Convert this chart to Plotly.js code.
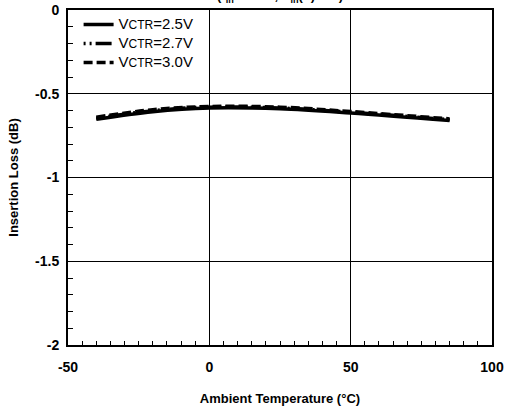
<!DOCTYPE html>
<html><head><meta charset="utf-8">
<script src="https://cdn.plot.ly/plotly-3.0.1.min.js"></script>
<style>body{margin:0;background:#fff}#c{width:505px;height:410px}</style>
</head><body><div id="c"></div>
<script>
const temps = [-40, -20, 0, 25, 50, 85];
const v25 = [-0.652, -0.607, -0.585, -0.590, -0.615, -0.660];
const v27 = [-0.646, -0.601, -0.580, -0.585, -0.610, -0.655];
const v30 = [-0.640, -0.595, -0.576, -0.580, -0.606, -0.650];
const seriesNames = ['2.5V', '2.7V', '3.0V'];
const legendLabel = v => '<span style="font-size:15px">V</span><span style="font-size:12px">CTR</span><span style="font-size:15px">=' + v + '</span>';
const xTicks = [-50, 0, 50, 100];
const yTicks = [0, -0.5, -1, -1.5, -2];
const yTickText = ['0', '-0.5', '-1', '-1.5', '-2'];

const mk = (y, name, dash) => ({x: temps, y: y, name: legendLabel(name), mode: 'lines', type: 'scatter',
  line: {color: '#000', width: 3.5, dash: dash, shape: 'spline'}});
const data = [mk(v25, seriesNames[0], 'solid'), mk(v27, seriesNames[1], '2px,4px,2px,4px,16px,3px'), mk(v30, seriesNames[2], '9px,4px')];

const fam = 'Liberation Sans, Arial, sans-serif';
const bold = {family: fam, size: 14, color: '#000', weight: 'bold'};
const layout = {
  width: 505, height: 410,
  margin: {l: 68, r: 13, t: 10, b: 65},
  paper_bgcolor: '#fff', plot_bgcolor: '#fff',
  showlegend: true,
  legend: {x: 0.025, y: 1.0, xanchor: 'left', yanchor: 'top', bgcolor: 'rgba(0,0,0,0)',
    font: {family: fam, size: 11, color: '#000'}, tracegroupgap: 0},
  xaxis: {range: [-50, 100], tickvals: xTicks, ticktext: xTicks.map(String), showgrid: true, gridcolor: '#000', gridwidth: 1,
    zeroline: false, showline: true, linecolor: '#000', linewidth: 2, mirror: true,
    ticks: 'inside', ticklen: 5, tickcolor: '#000', tickfont: bold, ticklabelstandoff: 8,
    minor: {dtick: 5, tick0: 0, ticks: 'inside', ticklen: 4, tickcolor: '#000', showgrid: false},
    title: {text: 'Ambient Temperature (°C)', font: {family: fam, size: 13, color: '#000', weight: 'bold'}, standoff: 20}},
  yaxis: {range: [-2, 0], tickvals: yTicks, ticktext: yTickText, showgrid: true, gridcolor: '#000', gridwidth: 1,
    zeroline: false, showline: true, linecolor: '#000', linewidth: 2, mirror: true,
    ticks: 'inside', ticklen: 5, tickcolor: '#000', tickfont: bold, ticklabelstandoff: 4,
    minor: {dtick: 0.1, tick0: 0, ticks: 'inside', ticklen: 5, tickcolor: '#000', showgrid: false},
    title: {text: 'Insertion Loss (dB)', font: {family: fam, size: 13, color: '#000', weight: 'bold'}, standoff: 14}},
  annotations: [{text: '(f<sub>in</sub>=1GHz, P<sub>in</sub>(L)=0V)', xref: 'paper', yref: 'paper', x: 0.5, y: 1, yshift: 3,
    xanchor: 'center', yanchor: 'bottom', showarrow: false,
    font: {family: fam, size: 13, color: '#000', weight: 'bold'}}]
};
Plotly.newPlot('c', data, layout, {displayModeBar: false, staticPlot: true});
</script></body></html>
